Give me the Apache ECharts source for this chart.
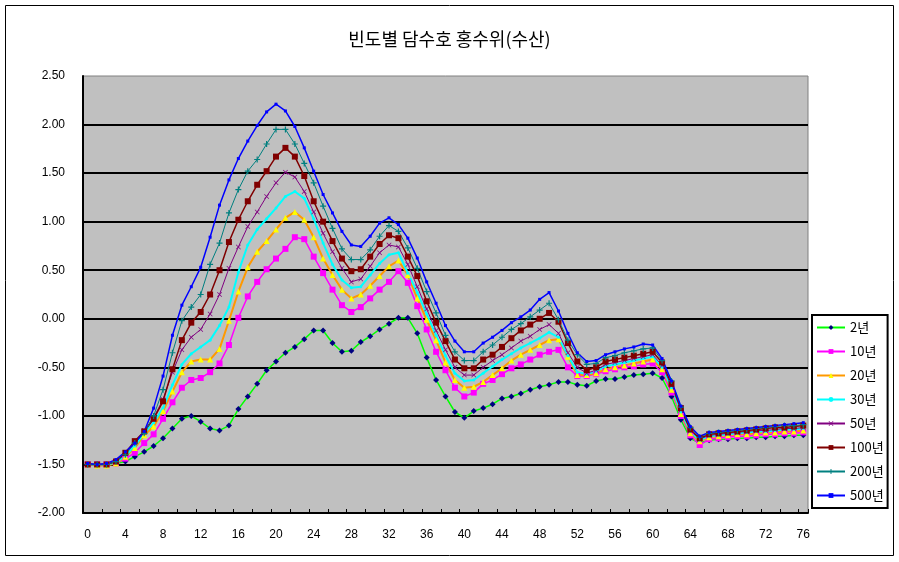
<!DOCTYPE html>
<html>
<head>
<meta charset="utf-8">
<script src="https://cdn.jsdelivr.net/npm/echarts@6/dist/echarts.min.js"></script>
<style>
html,body{margin:0;padding:0;background:#fff;}
#chart{width:899px;height:562px;}
</style>
</head>
<body>
<div id="chart"></div>
<script>
var categories = ['0','1','2','3','4','5','6','7','8','9','10','11','12','13','14','15','16','17','18','19','20','21','22','23','24','25','26','27','28','29','30','31','32','33','34','35','36','37','38','39','40','41','42','43','44','45','46','47','48','49','50','51','52','53','54','55','56','57','58','59','60','61','62','63','64','65','66','67','68','69','70','71','72','73','74','75','76'];

var seriesNames = ['2년','10년','20년','30년','50년','100년','200년','500년'];

var s2 = [-1.50,-1.50,-1.50,-1.49,-1.47,-1.42,-1.37,-1.31,-1.23,-1.13,-1.03,-1.00,-1.06,-1.13,-1.15,-1.10,-0.93,-0.80,-0.67,-0.53,-0.44,-0.35,-0.29,-0.21,-0.12,-0.12,-0.25,-0.34,-0.33,-0.24,-0.18,-0.11,-0.05,0.01,0.01,-0.15,-0.40,-0.63,-0.80,-0.96,-1.02,-0.95,-0.92,-0.88,-0.82,-0.80,-0.77,-0.73,-0.70,-0.68,-0.65,-0.65,-0.68,-0.69,-0.64,-0.62,-0.62,-0.60,-0.58,-0.57,-0.56,-0.61,-0.80,-1.04,-1.23,-1.28,-1.25,-1.24,-1.24,-1.23,-1.23,-1.22,-1.22,-1.21,-1.21,-1.20,-1.20];

var s10 = [-1.50,-1.50,-1.50,-1.49,-1.44,-1.38,-1.28,-1.19,-1.03,-0.86,-0.71,-0.63,-0.61,-0.55,-0.46,-0.27,0.01,0.23,0.38,0.51,0.62,0.72,0.84,0.82,0.64,0.47,0.30,0.14,0.07,0.12,0.21,0.30,0.38,0.49,0.37,0.13,-0.11,-0.34,-0.53,-0.71,-0.80,-0.76,-0.67,-0.63,-0.57,-0.51,-0.47,-0.42,-0.37,-0.34,-0.32,-0.50,-0.59,-0.59,-0.57,-0.54,-0.52,-0.50,-0.49,-0.47,-0.46,-0.55,-0.76,-1.00,-1.20,-1.30,-1.24,-1.23,-1.22,-1.21,-1.21,-1.20,-1.19,-1.19,-1.18,-1.18,-1.17];

var s20 = [-1.50,-1.51,-1.51,-1.49,-1.42,-1.33,-1.20,-1.11,-0.95,-0.75,-0.55,-0.44,-0.42,-0.42,-0.31,-0.02,0.28,0.53,0.69,0.80,0.92,1.04,1.10,1.02,0.84,0.62,0.45,0.30,0.21,0.25,0.34,0.44,0.54,0.60,0.45,0.21,-0.01,-0.22,-0.45,-0.63,-0.71,-0.70,-0.65,-0.58,-0.51,-0.43,-0.37,-0.32,-0.27,-0.22,-0.21,-0.39,-0.58,-0.58,-0.56,-0.52,-0.50,-0.48,-0.46,-0.44,-0.42,-0.52,-0.73,-0.98,-1.18,-1.26,-1.22,-1.21,-1.20,-1.19,-1.19,-1.18,-1.17,-1.17,-1.16,-1.16,-1.15];

var s30 = [-1.50,-1.50,-1.50,-1.48,-1.41,-1.31,-1.18,-1.07,-0.92,-0.68,-0.47,-0.36,-0.29,-0.22,-0.07,0.12,0.48,0.76,0.92,1.03,1.14,1.26,1.31,1.24,1.03,0.78,0.56,0.40,0.32,0.33,0.45,0.57,0.66,0.68,0.47,0.27,0.05,-0.17,-0.38,-0.56,-0.64,-0.63,-0.56,-0.49,-0.42,-0.36,-0.30,-0.25,-0.20,-0.14,-0.19,-0.38,-0.55,-0.57,-0.54,-0.49,-0.47,-0.45,-0.43,-0.41,-0.39,-0.50,-0.71,-0.96,-1.16,-1.25,-1.21,-1.20,-1.19,-1.18,-1.17,-1.16,-1.16,-1.15,-1.14,-1.14,-1.13];

var s50 = [-1.50,-1.50,-1.50,-1.47,-1.39,-1.28,-1.15,-1.02,-0.83,-0.55,-0.32,-0.19,-0.11,0.05,0.25,0.52,0.74,0.95,1.10,1.26,1.40,1.51,1.46,1.31,1.10,0.88,0.69,0.52,0.38,0.41,0.54,0.68,0.76,0.74,0.56,0.33,0.10,-0.12,-0.32,-0.50,-0.58,-0.58,-0.50,-0.43,-0.37,-0.30,-0.23,-0.18,-0.11,-0.06,-0.15,-0.35,-0.50,-0.56,-0.53,-0.47,-0.45,-0.43,-0.41,-0.39,-0.37,-0.48,-0.69,-0.94,-1.15,-1.24,-1.20,-1.19,-1.18,-1.17,-1.16,-1.15,-1.15,-1.14,-1.13,-1.13,-1.12];

var s100 = [-1.50,-1.50,-1.50,-1.47,-1.38,-1.26,-1.16,-1.03,-0.85,-0.52,-0.22,-0.04,0.07,0.25,0.50,0.79,1.02,1.21,1.38,1.52,1.67,1.76,1.67,1.47,1.21,1.00,0.80,0.62,0.49,0.51,0.64,0.77,0.86,0.83,0.64,0.44,0.18,-0.04,-0.23,-0.42,-0.51,-0.51,-0.42,-0.37,-0.29,-0.20,-0.12,-0.06,0.00,0.06,-0.03,-0.25,-0.44,-0.53,-0.50,-0.44,-0.42,-0.40,-0.38,-0.36,-0.34,-0.45,-0.67,-0.92,-1.14,-1.23,-1.19,-1.18,-1.17,-1.16,-1.15,-1.14,-1.13,-1.12,-1.12,-1.11,-1.10];

var s200 = [-1.50,-1.50,-1.50,-1.47,-1.40,-1.28,-1.18,-1.00,-0.73,-0.35,-0.02,0.12,0.25,0.56,0.78,1.09,1.33,1.52,1.64,1.80,1.95,1.95,1.80,1.60,1.40,1.16,0.93,0.72,0.61,0.61,0.71,0.85,0.96,0.90,0.73,0.52,0.28,0.06,-0.17,-0.34,-0.43,-0.43,-0.34,-0.27,-0.19,-0.11,-0.05,0.02,0.09,0.16,-0.01,-0.22,-0.37,-0.47,-0.46,-0.40,-0.38,-0.35,-0.33,-0.31,-0.30,-0.43,-0.64,-0.91,-1.12,-1.22,-1.18,-1.17,-1.16,-1.15,-1.14,-1.13,-1.12,-1.11,-1.10,-1.10,-1.09];

var s500 = [-1.49,-1.50,-1.49,-1.45,-1.37,-1.28,-1.16,-0.92,-0.59,-0.17,0.14,0.33,0.53,0.84,1.17,1.43,1.65,1.83,1.99,2.13,2.21,2.14,1.98,1.76,1.52,1.28,1.09,0.90,0.76,0.745,0.85,0.985,1.04,0.97,0.83,0.625,0.38,0.16,-0.07,-0.23,-0.34,-0.34,-0.25,-0.19,-0.12,-0.04,0.02,0.09,0.20,0.27,0.08,-0.15,-0.35,-0.44,-0.43,-0.37,-0.34,-0.31,-0.29,-0.26,-0.27,-0.41,-0.64,-0.90,-1.11,-1.21,-1.17,-1.16,-1.15,-1.14,-1.13,-1.12,-1.11,-1.10,-1.09,-1.08,-1.07];

var chart = echarts.init(document.getElementById('chart'), null, {renderer: 'canvas'});

var plusPath = 'path://M4,0H6V4H10V6H6V10H4V6H0V4H4Z';
var crossPath = 'path://M1,0L5,4L9,0L10,1L6,5L10,9L9,10L5,6L1,10L0,9L4,5L0,1Z';

var styles = [
  {line:'#00FF00', w:1.5, sym:'diamond', size:6, fill:'#000080'},
  {line:'#FF00FF', w:1.5, sym:'rect', size:6, fill:'#FF00FF'},
  {line:'#FF9900', w:2, sym:'triangle', size:6, fill:'#FFFF00'},
  {line:'#00FFFF', w:2, sym:'circle', size:3, fill:'#00FFFF'},
  {line:'#800080', w:1, sym:crossPath, size:5, fill:'#800080'},
  {line:'#800000', w:1.5, sym:'rect', size:6, fill:'#800000'},
  {line:'#008080', w:1, sym:plusPath, size:6, fill:'#008080'},
  {line:'#0000FF', w:1.5, sym:'rect', size:3, fill:'#0000FF'}
];
var allData = [s2, s10, s20, s30, s50, s100, s200, s500];

var series = allData.map(function(d, k){
  var st = styles[k];
  return {
    name: seriesNames[k],
    type: 'line',
    data: d,
    symbol: st.sym,
    symbolSize: st.size,
    showAllSymbol: true,
    itemStyle: {color: st.fill, borderWidth: 0},
    lineStyle: {color: st.line, width: st.w},
    emphasis: {disabled: true}
  };
});

var fontFam = '"Liberation Sans", "Noto Sans CJK KR", sans-serif';

chart.setOption({
  animation: false,
  backgroundColor: '#ffffff',
  title: {
    text: '빈도별 담수호 홍수위(수산)',
    left: 'center',
    top: 25,
    textStyle: {fontFamily: '"Noto Sans CJK KR", sans-serif', fontSize: 18, fontWeight: 'normal', color: '#000'}
  },
  graphic: [{
    type: 'rect',
    shape: {x: 5.5, y: 5.5, width: 888, height: 550},
    style: {fill: 'none', stroke: '#000', lineWidth: 1},
    silent: true,
    z: -1
  }],
  legend: {
    orient: 'vertical',
    left: 812,
    top: 315,
    itemWidth: 28,
    itemHeight: 6,
    itemGap: 11,
    padding: [6, 4, 6, 4],
    backgroundColor: '#ffffff',
    borderColor: '#000000',
    borderWidth: 2,
    textStyle: {fontFamily: '"Noto Sans CJK KR", sans-serif', fontSize: 13, color: '#000'},
    data: seriesNames
  },
  grid: {
    left: 83, right: 91, top: 76, bottom: 49,
    show: true,
    backgroundColor: '#C0C0C0',
    borderColor: '#808080',
    borderWidth: 1
  },
  xAxis: {
    type: 'category',
    data: categories,
    boundaryGap: true,
    axisLine: {show: true, onZero: false, lineStyle: {color: '#000', width: 2}},
    axisTick: {show: true, inside: true, interval: 1, length: 4, lineStyle: {color: '#000', width: 1}},
    axisLabel: {interval: 3, margin: 16, fontFamily: fontFam, fontSize: 12, color: '#000'},
    splitLine: {show: false}
  },
  yAxis: {
    type: 'value',
    min: -2,
    max: 2.5,
    interval: 0.5,
    axisLine: {show: true, lineStyle: {color: '#000', width: 2}},
    axisTick: {show: false},
    axisLabel: {margin: 18, fontFamily: fontFam, fontSize: 12, color: '#000',
      formatter: function(v){ return v.toFixed(2); }},
    splitLine: {show: true, showMaxLine: false, lineStyle: {color: '#000', width: 2}}
  },
  series: series
});
</script>
</body>
</html>
